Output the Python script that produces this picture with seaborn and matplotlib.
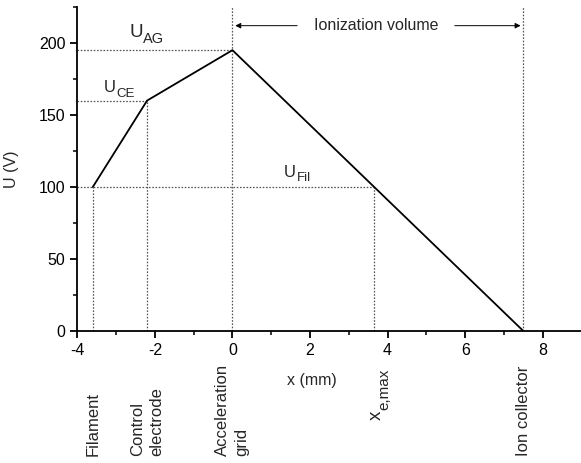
import matplotlib
matplotlib.use("Agg")
import matplotlib.pyplot as plt
import seaborn as sns
import pandas as pd

# data
x_points = [-3.6, -2.2, 0.0, 7.5]
U_points = [100, 160, 195, 0]
x_emax = 3.65
electrode_labels = ["Filament", "Control\nelectrode", "Acceleration\ngrid", "Ion collector"]
electrode_x = [-3.6, -2.2, 0.0, 7.5]
level_subs = ["Fil", "CE", "AG"]
x_ticks = [-4, -2, 0, 2, 4, 6, 8]
y_ticks = [0, 50, 100, 150, 200]

sns.set_style("ticks")
plt.rcParams["font.family"] = ["Liberation Sans", "DejaVu Sans"]
plt.rcParams["axes.unicode_minus"] = False

fig = plt.figure(figsize=(5.81, 4.63), dpi=100)
ax = fig.add_axes([0.133, 0.285, 0.868, 0.7])

df = pd.DataFrame({"x": x_points, "U": U_points})
sns.lineplot(data=df, x="x", y="U", color="black", lw=1.3, ax=ax, sort=False)

ax.set_xlim(-4, 9)
ax.set_ylim(0, 225)

dot = dict(color="#555555", lw=0.9, ls=(0, (1.3, 1.3)), zorder=1)
# horizontal guides
ax.plot([-4, 0], [195, 195], **dot)
ax.plot([-4, -2.2], [160, 160], **dot)
ax.plot([-4, x_emax], [100, 100], **dot)
# vertical guides
ax.plot([-3.6, -3.6], [0, 100], **dot)
ax.plot([-2.2, -2.2], [0, 160], **dot)
ax.plot([0, 0], [0, 225], **dot)
ax.plot([x_emax, x_emax], [0, 100], **dot)
ax.plot([7.5, 7.5], [0, 225], **dot)


def sub_label(x, y, sub, size, subsize, drop):
    ax.text(x, y, "U", fontsize=size, ha="right", va="baseline")
    ax.annotate(sub, xy=(x, y), xytext=(0.3, -drop), textcoords="offset points",
                fontsize=subsize, ha="left", va="baseline")


sub_label(1.64, 107, level_subs[0], 12, 9.5, 3)
sub_label(-3.0, 166, level_subs[1], 12, 9.5, 3.8)
sub_label(-2.31, 204.2, level_subs[2], 13.5, 10.5, 4.5)

# Ionization volume arrows
ya = 212
ax.annotate("", xy=(0, ya), xytext=(1.74, ya),
            arrowprops=dict(arrowstyle="-|>", color="black", lw=0.7, mutation_scale=8))
ax.annotate("", xy=(7.5, ya), xytext=(5.66, ya),
            arrowprops=dict(arrowstyle="-|>", color="black", lw=0.7, mutation_scale=8))
ax.text(3.7, ya, "Ionization volume", fontsize=11.5, ha="center", va="center")

ax.set_xticks(x_ticks)
ax.set_yticks(y_ticks)
ax.set_xticks([-3, -1, 1, 3, 5, 7], minor=True)
ax.set_yticks([25, 75, 125, 175, 225], minor=True)
ax.tick_params(axis="both", which="major", direction="out", length=5, width=1.3,
               labelsize=11.5, colors="black")
ax.tick_params(axis="both", which="minor", direction="out", length=3, width=1.3)
for s in ["left", "bottom"]:
    ax.spines[s].set_linewidth(1.3)
    ax.spines[s].set_color("black")
sns.despine(ax=ax)

ax.set_xlabel("")
ax.set_ylabel("U (V)", fontsize=11.5)
ax.yaxis.set_label_coords(-0.115, 0.5)
ax.text(2.05, -34, "x (mm)", fontsize=11.5, ha="center", va="center", clip_on=False)

# electrode labels (vertical)
ylab = -86.5
for xl, lab in zip(electrode_x, electrode_labels):
    ax.text(xl, ylab, lab, rotation=90, fontsize=12, ha="center", va="bottom",
            multialignment="left", linespacing=1.35, clip_on=False)

# x_e,max label (vertical, with subscript)
y_xe = -62
ax.annotate("x", xy=(x_emax, y_xe), xytext=(1.5, 0), textcoords="offset points",
            rotation=90, fontsize=13.5, ha="center", va="bottom", annotation_clip=False)
ax.annotate("e,max", xy=(x_emax, y_xe), xytext=(7.5, 7.8), textcoords="offset points",
            rotation=90, fontsize=11, ha="center", va="bottom", annotation_clip=False)

fig.savefig("out.png", dpi=100)
